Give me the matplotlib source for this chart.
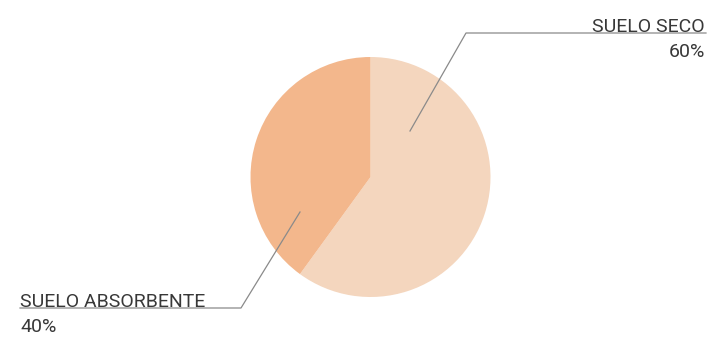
import matplotlib
matplotlib.use('Agg')
import matplotlib.pyplot as plt

labels = ['SUELO SECO', 'SUELO ABSORBENTE']
shares = [60, 40]
colors = ['#F4D6BE', '#F3B78C']

fig = plt.figure(figsize=(7.09, 3.42), dpi=100)
ax = fig.add_axes([0, 0, 1, 1])

# y runs downward here: start at -90 (screen top) and sweep clockwise on screen
ax.pie(shares, colors=colors, startangle=-90, counterclock=True,
       center=(370.5, 177), radius=120, frame=True,
       wedgeprops=dict(linewidth=0))
ax.set_xlim(0, 709)
ax.set_ylim(342, 0)
ax.set_aspect('equal')
ax.axis('off')

line_kw = dict(color='#8a8a8a', lw=0.9)
txt_kw = dict(fontsize=14, color='#383838', family='Roboto', va='baseline')

# leader for the dry share (upper right)
ax.plot([410, 466, 706], [131, 33, 33], **line_kw)
ax.text(705, 32, labels[0], ha='right', **txt_kw)
ax.text(705, 57, f'{shares[0]}%', ha='right', **txt_kw)

# leader for the absorbent share (lower left)
ax.plot([300, 241, 20], [212, 308, 308], **line_kw)
ax.text(20, 307, labels[1], ha='left', **txt_kw)
ax.text(20, 332, f'{shares[1]}%', ha='left', **txt_kw)

fig.savefig('out.png', dpi=100)
